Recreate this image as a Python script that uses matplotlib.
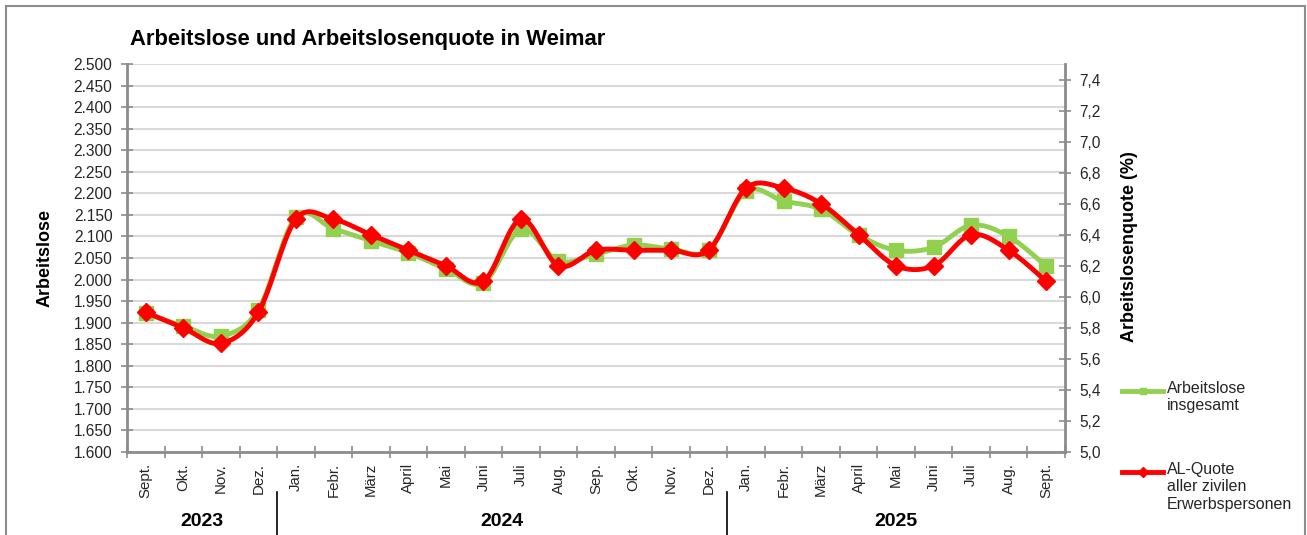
import numpy as np
import matplotlib
matplotlib.use("Agg")
import matplotlib.pyplot as plt
import matplotlib.transforms as mtrans
from matplotlib.lines import Line2D
from matplotlib.patches import Rectangle

plt.rcParams['font.family'] = ['Liberation Sans', 'DejaVu Sans']

months = ["Sept.", "Okt.", "Nov.", "Dez.",
          "Jan.", "Febr.", "März", "April", "Mai", "Juni", "Juli", "Aug.", "Sep.", "Okt.", "Nov.", "Dez.",
          "Jan.", "Febr.", "März", "April", "Mai", "Juni", "Juli", "Aug.", "Sept."]
years = ["2023", "2024", "2025"]
year_counts = [4, 12, 9]

arbeitslose = [1922, 1892, 1869, 1930,
               2145, 2118, 2090, 2062, 2025, 1992, 2117, 2043, 2059, 2080, 2071, 2068,
               2205, 2182, 2163, 2103, 2068, 2075, 2126, 2100, 2031]
quote = [5.9, 5.8, 5.7, 5.9,
         6.5, 6.5, 6.4, 6.3, 6.2, 6.1, 6.5, 6.2, 6.3, 6.3, 6.3, 6.3,
         6.7, 6.7, 6.6, 6.4, 6.2, 6.2, 6.4, 6.3, 6.1]

GREEN = "#92D050"
RED = "#FF0000"
GRID = "#D9D9D9"
AXC = "#8C8C8C"
TXT = "#262626"


def smooth(xs, ys, n=30):
    """Excel-like smoothed line (Bezier with Catmull-Rom control points)."""
    xs = np.asarray(xs, float)
    ys = np.asarray(ys, float)
    px = np.concatenate([[xs[0]], xs, [xs[-1]]])
    py = np.concatenate([[ys[0]], ys, [ys[-1]]])
    outx, outy = [], []
    t = np.linspace(0, 1, n)
    for i in range(1, len(px) - 2):
        p0 = np.array([px[i], py[i]])
        p3 = np.array([px[i + 1], py[i + 1]])
        c1 = p0 + (np.array([px[i + 1], py[i + 1]]) - np.array([px[i - 1], py[i - 1]])) / 6
        c2 = p3 - (np.array([px[i + 2], py[i + 2]]) - np.array([px[i], py[i]])) / 6
        b = ((1 - t) ** 3)[:, None] * p0 + (3 * (1 - t) ** 2 * t)[:, None] * c1 \
            + (3 * (1 - t) * t ** 2)[:, None] * c2 + (t ** 3)[:, None] * p3
        outx.extend(b[:, 0])
        outy.extend(b[:, 1])
    return np.array(outx), np.array(outy)


W, H = 1307, 535
fig = plt.figure(figsize=(W / 100, H / 100), dpi=100)

# outer frame
fig.add_artist(Rectangle((6 / W, -0.05), (1305 - 6) / W, 1.05 - 6 / H,
                         transform=fig.transFigure, fill=False,
                         edgecolor="#8C8C8C", lw=1.5))

L, R, T, B = 127, 1065, 64, 452
ax = fig.add_axes([L / W, 1 - B / H, (R - L) / W, (B - T) / H])
ax2 = ax.twinx()

x = np.arange(len(months))
ax.set_xlim(-0.5, len(months) - 0.5)
ax.set_ylim(1600, 2500)
ax2.set_ylim(5.0, 7.5)

yt = np.arange(1600, 2501, 50)
ax.set_yticks(yt)
ax.set_yticklabels([f"{v:,.0f}".replace(",", ".") for v in yt], fontsize=11.2, color=TXT)
ax.yaxis.grid(True, color=GRID, lw=1.5)
ax.set_axisbelow(True)

yt2 = np.round(np.arange(5.0, 7.41, 0.2), 1)
ax2.set_yticks(yt2)
ax2.set_yticklabels([f"{v:.1f}".replace(".", ",") for v in yt2], fontsize=11.2, color=TXT)

ax.set_xticks(x)
ax.set_xticklabels(months, rotation=90, fontsize=10.8, color=TXT)
ax.set_xticks(np.arange(-0.5, len(months), 1), minor=True)
ax.tick_params(axis="x", which="major", length=0, pad=8)
ax.tick_params(axis="x", which="minor", direction="inout", length=9, color=AXC, width=1.2)
ax.tick_params(axis="y", direction="inout", length=9, color=AXC, width=1.2, pad=6)
ax2.tick_params(axis="y", direction="inout", length=9, color=AXC, width=1.2, pad=6)

for a in (ax, ax2):
    a.spines["top"].set_visible(False)
ax.spines["right"].set_visible(False)
ax2.spines["left"].set_visible(False)
ax2.spines["bottom"].set_visible(False)
for s in (ax.spines["left"], ax.spines["bottom"], ax2.spines["right"]):
    s.set_color(AXC)
    s.set_linewidth(2)

sx, sy = smooth(x, arbeitslose)
ax.plot(sx, sy, color=GREEN, lw=3.5, solid_capstyle="round", zorder=3)
ax.plot(x, arbeitslose, ls="none", marker="s", ms=10.5, color=GREEN, zorder=3)

qx, qy = smooth(x, quote)
ax2.plot(qx, qy, color=RED, lw=3.5, solid_capstyle="round", zorder=4)
ax2.plot(x, quote, ls="none", marker="D", ms=9, color=RED, zorder=4)

ax.set_ylabel("Arbeitslose", fontsize=13, fontweight="bold")
ax.yaxis.set_label_coords((54 - L) / (R - L), 0.5)
ax2.set_ylabel("Arbeitslosenquote (%)", fontsize=13, fontweight="bold")
ax2.yaxis.set_label_coords((1121 - L) / (R - L), (B - 247) / (B - T))

fig.text(130 / W, 1 - 45 / H, "Arbeitslose und Arbeitslosenquote in Weimar",
         fontsize=15.8, fontweight="bold", va="baseline", ha="left")

# year labels and separators
bt = mtrans.blended_transform_factory(ax.transData, fig.transFigure)
start = 0
for yr, cnt in zip(years, year_counts):
    cx = start + (cnt - 1) / 2
    ax.text(cx, 1 - 521 / H, yr, transform=bt,
            ha="center", va="center", fontsize=14, fontweight="bold")
    start += cnt
pos = 0
for cnt in year_counts[:-1]:
    pos += cnt
    ax.add_artist(Line2D([pos - 0.5, pos - 0.5], [1 - 492 / H, 0], transform=bt,
                         color="black", lw=1.2, clip_on=False))


# legend (manual)
def legend_entry(y_px, color, marker, ms, text):
    fig.add_artist(Line2D([1122 / W, 1163 / W], [1 - y_px / H] * 2, color=color, lw=3.5,
                          transform=fig.transFigure))
    fig.add_artist(Line2D([1142.5 / W], [1 - y_px / H], color=color, marker=marker, ms=ms,
                          transform=fig.transFigure))
    fig.text(1167 / W, 1 - (y_px - 10) / H, text, fontsize=11.5, va="top", ha="left",
             color=TXT, linespacing=1.2)


legend_entry(391, GREEN, "s", 5, "Arbeitslose\ninsgesamt")
legend_entry(472, RED, "D", 5, "AL-Quote\naller zivilen\nErwerbspersonen")

fig.savefig("out.png", dpi=100, facecolor="white")
